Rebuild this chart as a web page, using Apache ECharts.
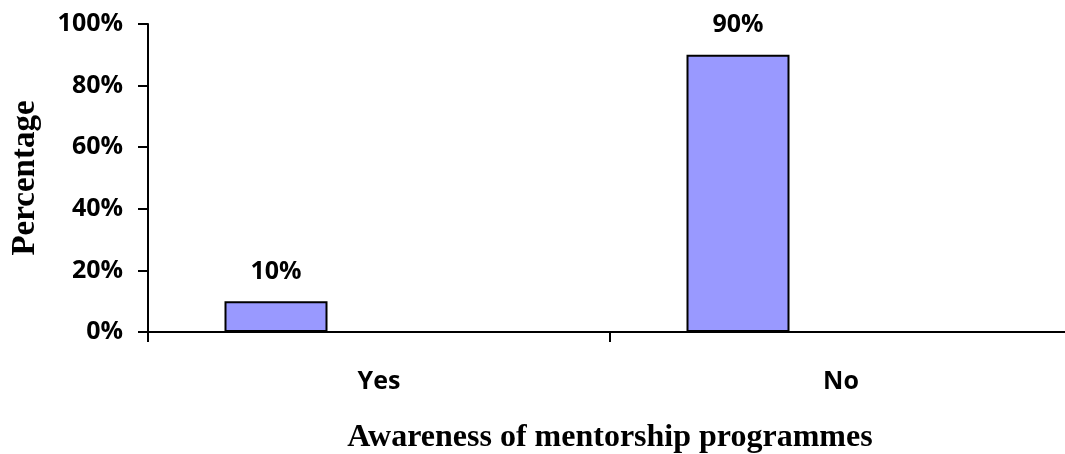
<!DOCTYPE html>
<html>
<head>
<meta charset="utf-8">
<script src="https://cdn.jsdelivr.net/npm/echarts@6/dist/echarts.min.js"></script>
<style>
html,body{margin:0;padding:0;background:#fff;}
#chart{width:1065px;height:454px;}
</style>
</head>
<body>
<div id="chart"></div>
<script>
var categories = ['Yes', 'No'];
var awarenessValues = [10, 90];
var spacerValues = ['-', '-'];
var yTickLabels = ['0%', '20%', '40%', '60%', '80%', '100%'];
var xAxisTitle = 'Awareness of mentorship programmes';
var yAxisTitle = 'Percentage';

var chart = echarts.init(document.getElementById('chart'), null, {renderer: 'canvas'});
var tickFont = {fontFamily: '"Open Sans", sans-serif', fontWeight: 'bold', fontSize: 25, color: '#000'};
chart.setOption({
  animation: false,
  backgroundColor: '#fff',
  grid: {left: 148, right: -7, top: 24, bottom: 122, containLabel: false, outerBoundsMode: 'none'},
  xAxis: {
    type: 'category',
    data: categories,
    boundaryGap: true,
    name: xAxisTitle,
    nameLocation: 'middle',
    nameGap: 90,
    nameTextStyle: {fontFamily: '"Liberation Serif", "Times New Roman", serif', fontWeight: 'bold', fontSize: 32, color: '#000'},
    axisLine: {lineStyle: {color: '#000', width: 2}},
    axisTick: {show: true, inside: false, length: 10, alignWithLabel: false, lineStyle: {color: '#000', width: 2}},
    axisLabel: Object.assign({margin: 37}, tickFont),
    splitLine: {show: false}
  },
  yAxis: {
    type: 'value',
    min: 0, max: 100, interval: 20,
    name: yAxisTitle,
    nameLocation: 'middle',
    nameGap: 106,
    nameRotate: 90,
    nameTextStyle: {fontFamily: '"Liberation Serif", "Times New Roman", serif', fontWeight: 'bold', fontSize: 33, color: '#000'},
    axisLine: {show: true, lineStyle: {color: '#000', width: 2}},
    axisTick: {show: true, inside: false, length: 10, lineStyle: {color: '#000', width: 2}},
    axisLabel: Object.assign({margin: 25, formatter: function (v) { return yTickLabels[Math.round(v / 20)]; }}, tickFont),
    splitLine: {show: false}
  },
  series: [
    {
      type: 'bar',
      data: awarenessValues,
      barWidth: 103,
      barGap: '100%',
      itemStyle: {color: '#9999FF', borderColor: '#000', borderWidth: 2},
      label: {show: true, position: 'top', distance: 17, formatter: '{c}%', fontFamily: '"Open Sans", sans-serif', fontWeight: 'bold', fontSize: 25, color: '#000'}
    },
    {
      type: 'bar',
      data: spacerValues,
      barWidth: 103,
      barGap: '100%',
      itemStyle: {color: '#9999FF', borderColor: '#000', borderWidth: 2}
    }
  ]
});
</script>
</body>
</html>
